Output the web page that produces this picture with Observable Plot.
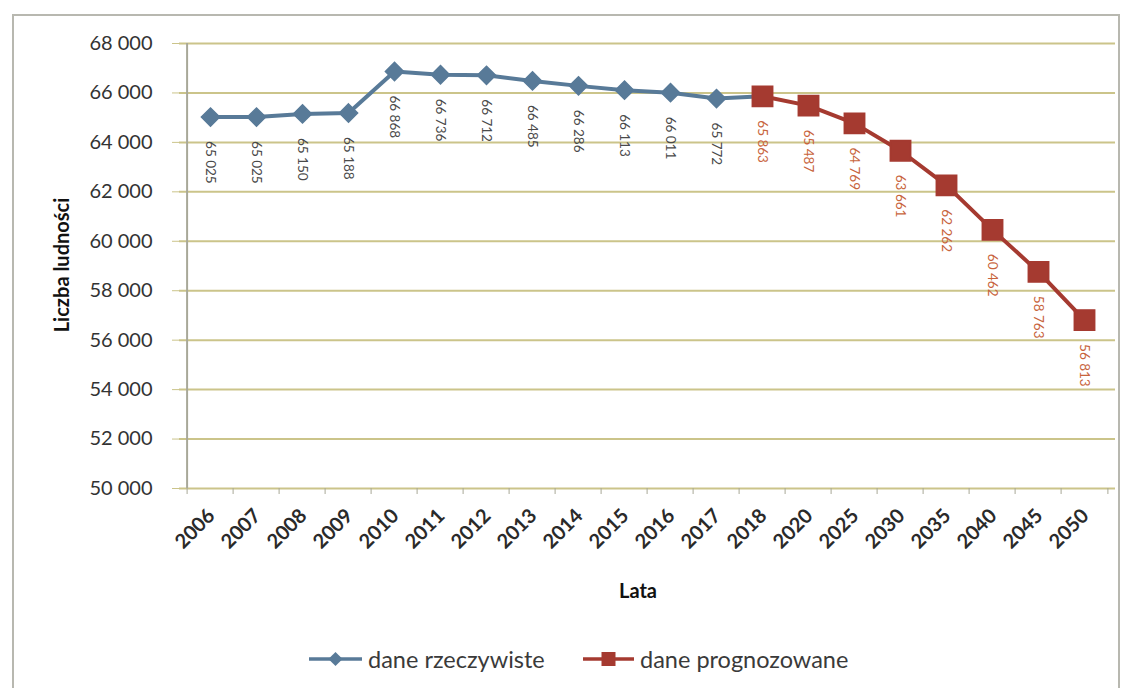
<!DOCTYPE html>
<html><head><meta charset="utf-8">
<script src="https://cdn.jsdelivr.net/npm/d3@7"></script>
<script src="https://cdn.jsdelivr.net/npm/@observablehq/plot@0.6"></script>
<style>
body{margin:0;background:#fff;font-family:Lato,"Open Sans",sans-serif;}
#wrap{position:relative;width:1128px;height:688px;overflow:hidden;}
#frame{position:absolute;left:12px;top:14px;width:1108px;height:690px;border:2px solid #b8b8b0;box-sizing:border-box;}
#chart{position:absolute;left:0;top:0;}
#legend{position:absolute;top:645px;left:0;width:1128px;font-size:23.5px;color:#3a3a3a;}
.li{position:absolute;display:flex;align-items:center;gap:6px;}
.ytitle{position:absolute;left:61px;top:265px;transform:translate(-50%,-50%) rotate(-90deg);font-weight:bold;font-size:20px;color:#111;white-space:nowrap;}
.xtitle{position:absolute;left:638px;top:590px;transform:translate(-50%,-50%);font-weight:bold;font-size:20px;color:#111;}
</style></head>
<body>
<div id="wrap">
<div id="frame"></div>
<div id="chart"></div>
<div class="ytitle">Liczba ludności</div>
<div class="xtitle">Lata</div>
<div id="legend">
  <div class="li" style="left:309px"><svg width="53" height="18"><line x1="0" y1="9" x2="53" y2="9" stroke="#587a98" stroke-width="3.5"/><rect x="21.5" y="4" width="10" height="10" fill="#587a98" transform="rotate(45 26.5 9)"/></svg><span>dane rzeczywiste</span></div>
  <div class="li" style="left:583px"><svg width="51" height="20"><line x1="0" y1="10" x2="51" y2="10" stroke="#a53a30" stroke-width="3.5"/><rect x="18.5" y="3" width="14" height="14" fill="#a53a30"/></svg><span>dane prognozowane</span></div>
</div>
</div>
<script>
const years = ["2006","2007","2008","2009","2010","2011","2012","2013","2014","2015","2016","2017","2018","2020","2025","2030","2035","2040","2045","2050"];
const actualYears = ["2006","2007","2008","2009","2010","2011","2012","2013","2014","2015","2016","2017"];
const actualValues = [65025,65025,65150,65188,66868,66736,66712,66485,66286,66113,66011,65772];
const forecastYears = ["2018","2020","2025","2030","2035","2040","2045","2050"];
const forecastValues = [65863,65487,64769,63661,62262,60462,58763,56813];
const yTicks = [50000,52000,54000,56000,58000,60000,62000,64000,66000,68000];

const actual = actualYears.map((y,i)=>({year:y,value:actualValues[i]}));
const forecast = forecastYears.map((y,i)=>({year:y,value:forecastValues[i]}));
const actualLine = actual.concat([forecast[0]]);

const fmt = v => d3.format(",")(v).replace(/,/g," ");
const W = 1128, H = 620, mL = 179, mR = 13, mT = 43, mB = H - 488;
const half = (W - mL - mR) / years.length / 2;

const blue = "#587a98", red = "#a53a30";

const chart = Plot.plot({
  width: W, height: H,
  marginLeft: mL, marginRight: mR, marginTop: mT, marginBottom: mB,
  style: {fontFamily: "Lato, 'Open Sans', sans-serif", background: "transparent"},
  x: {type: "point", domain: years, padding: 0.5},
  y: {domain: [50000, 68000]},
  marks: [
    Plot.gridY(yTicks, {stroke: "#cbc48a", strokeOpacity: 1, strokeWidth: 2}),
    Plot.ruleX([years[0]], {dx: -half, stroke: "#a8a898", strokeWidth: 2}),
    Plot.ruleX(years, {x: d => d, y1: 50000, y2: 50000, insetBottom: -6, dx: -half, stroke: "#a8a898"}),
    Plot.ruleX([years[years.length-1]], {x: d => d, y1: 50000, y2: 50000, insetBottom: -6, dx: half, stroke: "#a8a898"}),
    Plot.axisY(yTicks, {tickFormat: fmt, tickSize: 7, tickPadding: 20, fontSize: 20, stroke: "#cbc48a", color: "#333", label: null}),
    Plot.axisX({tickSize: 0, tickRotate: -45, fontSize: 20, fontWeight: "bold", tickPadding: 24, dx: 1, label: null, color: "#2a2a2a"}),
    Plot.line(actualLine, {x: "year", y: "value", stroke: blue, strokeWidth: 4}),
    Plot.line(forecast, {x: "year", y: "value", stroke: red, strokeWidth: 4}),
    Plot.dot(actual, {x: "year", y: "value", symbol: "diamond2", r: 8.2, fill: blue, stroke: blue}),
    Plot.dot(forecast, {x: "year", y: "value", symbol: "square", r: 11.5, fill: red, stroke: red}),
    Plot.text(actual, {x: "year", y: "value", text: d => fmt(d.value), rotate: 90, textAnchor: "start", dy: 24, fontSize: 13.5, fill: "#4a4a4a"}),
    Plot.text(forecast, {x: "year", y: "value", text: d => fmt(d.value), rotate: 90, textAnchor: "start", dy: 24, fontSize: 13.5, fill: "#c8643c"})
  ]
});
document.getElementById("chart").appendChild(chart);
</script>
</body></html>
